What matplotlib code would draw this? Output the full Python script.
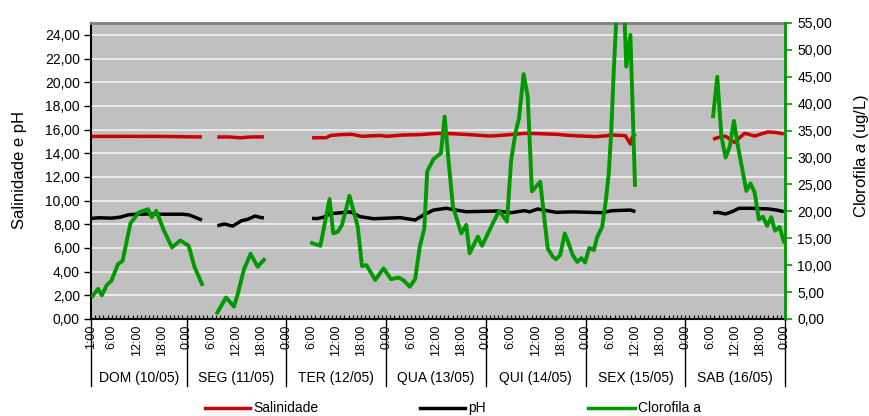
import numpy as np
import matplotlib
matplotlib.use('Agg')
import matplotlib.pyplot as plt
from matplotlib.ticker import FuncFormatter
from matplotlib.lines import Line2D
import matplotlib.transforms as mtransforms

plt.rcParams['font.family'] = ['Liberation Sans', 'DejaVu Sans']
plt.rcParams['mathtext.fontset'] = 'custom'
plt.rcParams['mathtext.rm'] = 'Liberation Sans'
plt.rcParams['mathtext.it'] = 'Liberation Sans:italic'

nan = np.nan

# hours since Sunday 10/05 0:00
sal_t = [1.2, 6, 10, 14, 18, 22, 26, 27.7, nan,
         31.4, 34, 36, 37, 38.5, 40, 42.6, nan,
         54.2, 56, 57.5, 58.7, 61, 63.7, 66.2, 68.5, 70.6, 72, 76.2, 80, 84.5, 88, 93, 97,
         100, 105.5, 108, 112.9, 116.3, 122.4, 125.2, 126, 129.6, 130.8, 131.2, 132, nan,
         150.7, 151.6, 153.6, 154.7, 155.9, 156.7, 158.3, 159.3, 160.7, 162, 163.9, 165.8, 167.7]
salinidade = [15.42, 15.42, 15.43, 15.42, 15.42, 15.40, 15.38, 15.38, nan,
              15.37, 15.38, 15.33, 15.30, 15.35, 15.38, 15.38, nan,
              15.30, 15.32, 15.30, 15.50, 15.57, 15.60, 15.43, 15.47, 15.50, 15.43, 15.54, 15.57,
              15.68, 15.65, 15.55, 15.45, 15.52, 15.68, 15.66, 15.60, 15.50, 15.40, 15.48, 15.55,
              15.48, 14.78, 15.30, 15.63, nan,
              15.17, 15.30, 15.45, 15.20, 14.90, 15.20, 15.68, 15.60, 15.45, 15.60, 15.80, 15.75, 15.63]

ph_t = [1.2, 3, 6, 8, 10, 12, 15, 18, 21, 23, 24.5, 26, 27.7, nan,
        31.4, 33.1, 35.1, 37.2, 38.7, 40.5, 41.6, 42.6, nan,
        54.2, 55.4, 57, 58.4, 59.6, 63.4, 65.8, 69, 75.4, 79, 81, 83.4, 86.5, 88.9, 91.3,
        98.5, 102.1, 105.3, 106.5, 108.5, 112.9, 117, 124, 126.4, 130.8, 132, nan,
        150.7, 152, 153.7, 155.5, 156.9, 160, 163.9, 166, 167.7]
ph = [8.50, 8.55, 8.52, 8.60, 8.80, 8.85, 8.87, 8.85, 8.85, 8.85, 8.80, 8.60, 8.35, nan,
      7.88, 8.02, 7.85, 8.30, 8.42, 8.70, 8.59, 8.53, nan,
      8.50, 8.48, 8.60, 8.87, 8.93, 9.04, 8.64, 8.47, 8.56, 8.36, 8.78, 9.20, 9.35, 9.20, 9.06,
      9.12, 8.98, 9.15, 9.05, 9.29, 9.01, 9.05, 8.98, 9.15, 9.20, 9.07, nan,
      8.98, 9.00, 8.87, 9.10, 9.35, 9.35, 9.30, 9.20, 9.07]

chl_t = [1.4, 2.7, 3.6, 4.8, 5.9, 7.5, 8.6, 10.5, 12.5, 14.7, 15.6, 16.7, 18.5, 20.5, 22.5,
         24.5, 25.9, 27.7, nan,
         31.4, 33.5, 35.4, 36.3, 37.8, 39.4, 41.1, 42.6, nan,
         54.2, 56.2, 58.4, 59.3, 60.4, 61.4, 63.2, 65.2, 66.2, 67.3, 69.4, 71.4, 73.2, 75.0,
         76.1, 77.7, 79.0, 80.1, 81.2, 81.9, 83.4, 85.2, 86.1, 87.1, 88.1, 90.1, 91.3, 92.1,
         94.1, 95.1, 97.7, 99.2, 101.1, 102.1, 103.2, 104.0, 105.1, 106.1, 107.1, 109.1,
         110.9, 112.1, 112.9, 113.9, 115.0, 116.0, 116.9, 118.0, 119.0, 119.9, 120.9, 122.0,
         122.8, 124.0, 124.9, 125.6, 126.2, 126.8, 127.5, 129.2, 129.8, 130.8, 131.9, nan,
         150.7, 151.7, 152.7, 153.7, 154.7, 155.7, 156.7, 158.7, 159.7, 160.7, 161.7, 162.7,
         163.7, 164.7, 165.6, 166.7, 167.7]
clorofila = [4.3, 5.6, 4.4, 6.3, 7.1, 10.2, 10.8, 17.8, 19.8, 20.4, 18.9, 20.1, 16.5, 13.3, 14.6,
             13.6, 9.7, 6.5, nan,
             1.2, 4.0, 2.3, 4.6, 9.2, 12.1, 9.7, 11.0, nan,
             14.1, 13.6, 22.3, 15.9, 16.2, 17.5, 22.9, 17.1, 9.85, 10.0, 7.25, 9.4, 7.4, 7.7,
             7.25, 6.0, 7.4, 13.4, 16.8, 27.4, 29.7, 30.8, 37.6, 28.9, 20.9, 15.9, 17.5, 12.2,
             15.3, 13.6, 17.8, 20.1, 18.1, 29.5, 34.8, 37.3, 45.5, 41.3, 23.7, 25.5,
             13.1, 11.6, 11.1, 11.9, 15.9, 13.9, 11.9, 10.6, 11.3, 10.5, 13.2, 12.8,
             15.2, 17.1, 22.1, 27.1, 35.1, 46.3, 57.0, 60.0, 46.9, 52.8, 24.9, nan,
             37.7, 45.0, 33.9, 30.0, 32.0, 36.8, 32.0, 23.8, 25.2, 23.5, 18.5, 19.0,
             17.3, 18.9, 16.4, 17.1, 14.4]

day_labels = ['DOM (10/05)', 'SEG (11/05)', 'TER (12/05)', 'QUA (13/05)',
              'QUI (14/05)', 'SEX (15/05)', 'SAB (16/05)']
tick_hours = [1, 6, 12, 18] + [h for d in range(1, 7) for h in (24 * d, 24 * d + 6, 24 * d + 12, 24 * d + 18)] + [168]
day_bounds = [24 * d for d in range(1, 8)]

RED = '#CC0000'
GREEN = '#009900'
W, H = 870, 416

fig = plt.figure(figsize=(8.7, 4.16), dpi=100)
ax = fig.add_axes([91 / W, 1 - 319 / H, (785 - 91) / W, (319 - 23) / H])
ax.set_facecolor('#C0C0C0')
ax.set_xlim(1, 168)
ax.set_ylim(0, 25)
ax.set_yticks(np.arange(0, 25, 2))
ax.yaxis.set_major_formatter(FuncFormatter(lambda v, p: f'{v:.2f}'.replace('.', ',')))
ax.yaxis.grid(True, color='#F2F2F2', lw=1.2)
ax.set_axisbelow(True)

ax.set_xticks(tick_hours)
ax.set_xticklabels([f'{int(h) % 24}:00' for h in tick_hours])
ax.set_xticks(np.arange(1, 169, 1), minor=True)
ax.tick_params(axis='x', which='both', direction='in', length=3, width=0.8)
ax.tick_params(axis='x', which='major', labelsize=9, labelrotation=90, pad=4)
ax.tick_params(axis='y', direction='out', length=5, width=1, labelsize=10, pad=3)

ax.spines['top'].set_color('#7F7F7F')
ax.spines['top'].set_linewidth(2)
ax.spines['right'].set_visible(False)
ax.spines['left'].set_linewidth(1.5)
ax.spines['bottom'].set_linewidth(1.5)

ax.plot(sal_t, salinidade, color=RED, lw=2.5, solid_capstyle='butt')
ax.plot(ph_t, ph, color='black', lw=2.5, solid_capstyle='butt')

ax2 = ax.twinx()
ax2.set_ylim(0, 55)
ax2.set_yticks(np.arange(0, 56, 5))
ax2.yaxis.set_major_formatter(FuncFormatter(lambda v, p: f'{v:.2f}'.replace('.', ',')))
for s in ('top', 'left', 'bottom'):
    ax2.spines[s].set_visible(False)
ax2.spines['right'].set_color(GREEN)
ax2.spines['right'].set_linewidth(2)
ax2.tick_params(axis='y', direction='out', length=5, width=1.2, color=GREEN, labelsize=10, pad=4)
ax2.plot(chl_t, clorofila, color=GREEN, lw=2.8)

# day separators and day names
trans = mtransforms.blended_transform_factory(ax.transData, ax.transAxes)
for b in [1] + day_bounds:
    ax.add_line(Line2D([b, b], [0, -0.225], transform=trans, color='black', lw=1, clip_on=False))
centers = [12.5] + [24 * d + 12 for d in range(1, 7)]
for c, lab in zip(centers, day_labels):
    ax.text(c, -0.20, lab, transform=trans, ha='center', va='center', fontsize=10)

# y labels
fig.text(20 / W, 1 - 170 / H, 'Salinidade e pH', rotation=90, ha='center', va='center', fontsize=12)
fig.text(852 / W, 1 - 156 / H, 'Clorofila $\\mathit{a}$ (ug/L)', rotation=90, ha='left', va='center', fontsize=12)

# legend
ly = 1 - 408 / H
for x0, x1, col, lab in [(205, 250, RED, 'Salinidade'), (420, 465, 'black', 'pH'), (588, 635, GREEN, 'Clorofila a')]:
    fig.add_artist(Line2D([x0 / W, x1 / W], [ly, ly], color=col, lw=2.5))
    fig.text((x1 + 3) / W, ly, lab, ha='left', va='center', fontsize=10)

fig.savefig('out.png', dpi=100)
